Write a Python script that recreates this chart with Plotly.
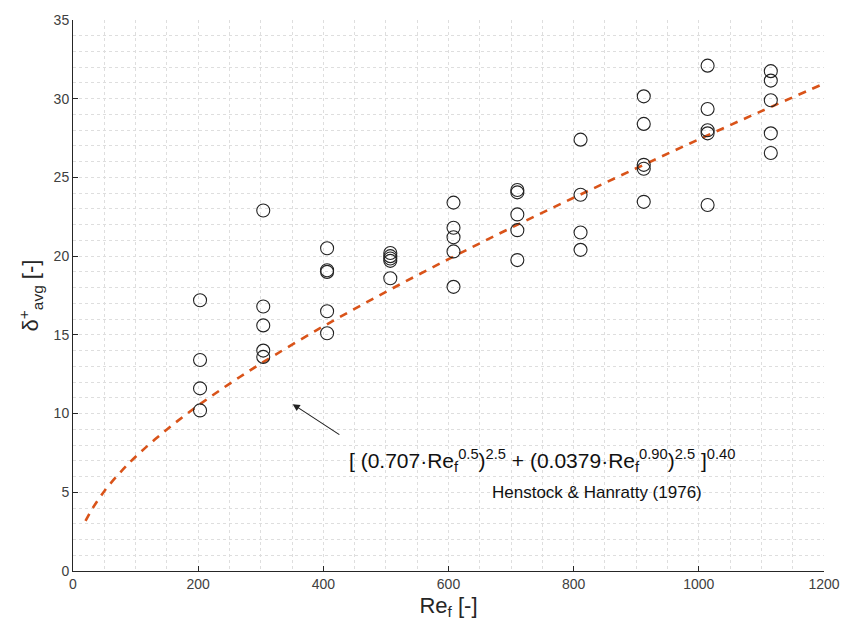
import plotly.graph_objects as go

# Measured data (Re_f, delta+_avg)
re_groups = [203, 304, 406, 507, 608, 710, 811, 912, 1014, 1115]
delta_groups = [
    [17.2, 13.4, 11.6, 10.2],
    [22.9, 16.8, 15.6, 14.0, 13.6],
    [20.5, 19.1, 19.0, 16.5, 15.1],
    [20.2, 20.0, 19.85, 19.7, 18.6],
    [23.4, 21.8, 21.2, 20.3, 18.05],
    [24.2, 24.05, 22.65, 21.65, 19.75],
    [27.4, 23.9, 21.5, 20.4],
    [30.15, 28.4, 25.8, 25.55, 23.45],
    [32.1, 29.35, 28.0, 27.8, 23.25],
    [31.75, 31.15, 29.9, 27.8, 26.55],
]

# Henstock & Hanratty (1976) correlation curve
curve_re = [20, 30, 50, 75, 100, 150, 200, 250, 300, 400, 500, 600, 700, 800, 900, 1000, 1100, 1200]
curve_delta = [3.18, 3.90, 5.07, 6.24, 7.26, 8.99, 10.51, 11.89, 13.17, 15.54, 17.73,
               19.81, 21.80, 23.71, 25.58, 27.42, 29.21, 30.96]

x_ticks = [0, 200, 400, 600, 800, 1000, 1200]
y_ticks = [0, 5, 10, 15, 20, 25, 30, 35]

xs, ys = [], []
for r, vals in zip(re_groups, delta_groups):
    for v in vals:
        xs.append(r)
        ys.append(v)

FONT = "Liberation Sans, Arial, sans-serif"
GRID = "#dedede"

fig = go.Figure()
fig.add_trace(go.Scatter(
    x=curve_re, y=curve_delta, mode="lines", line_shape="spline",
    line=dict(color="#D95319", width=2.6, dash="8px,7px"),
    showlegend=False, hoverinfo="skip"))
fig.add_trace(go.Scatter(
    x=xs, y=ys, mode="markers",
    marker=dict(symbol="circle-open", size=13, color="#222222", line=dict(width=1.1, color="#222222")),
    showlegend=False))

fig.add_annotation(
    x=351, y=10.6, ax=428, ay=8.6, xref="x", yref="y", axref="x", ayref="y",
    showarrow=True, arrowhead=2, arrowsize=1.3, arrowwidth=1.1, arrowcolor="#222222", text="")
fig.add_annotation(
    x=749, y=7.0, xref="x", yref="y", showarrow=False,
    text="[ (0.707·Re<sub>f</sub><sup>0.5</sup>)<sup>2.5</sup> + (0.0379·Re<sub>f</sub><sup>0.90</sup>)<sup>2.5</sup> ]<sup>0.40</sup>",
    font=dict(family=FONT, size=21, color="#111111"), xanchor="center", yanchor="middle")
fig.add_annotation(
    x=837, y=5.0, xref="x", yref="y", showarrow=False,
    text="Henstock &amp; Hanratty (1976)",
    font=dict(family=FONT, size=17, color="#111111"), xanchor="center", yanchor="middle")

fig.update_layout(
    width=854, height=630,
    margin=dict(l=73, r=30, t=16, b=59),
    paper_bgcolor="white", plot_bgcolor="white",
    font=dict(family=FONT, color="#404040", size=14),
    xaxis=dict(
        range=[0, 1200], tickvals=x_ticks, ticktext=[str(t) for t in x_ticks],
        showline=True, linecolor="#262626", linewidth=1, mirror=False,
        ticks="inside", ticklen=5, tickcolor="#262626",
        showgrid=True, gridcolor=GRID, griddash="dot", gridwidth=1,
        minor=dict(dtick=50, tick0=0, showgrid=True, gridcolor=GRID, griddash="dot", gridwidth=1),
        zeroline=False,
        title=dict(text="Re<sub>f</sub> [-]", font=dict(size=22, color="#262626"), standoff=6),
        tickfont=dict(size=14, color="#404040"),
    ),
    yaxis=dict(
        range=[0, 35], tickvals=y_ticks, ticktext=[str(t) for t in y_ticks],
        showline=True, linecolor="#262626", linewidth=1, mirror=False,
        ticks="inside", ticklen=5, tickcolor="#262626",
        showgrid=True, gridcolor=GRID, griddash="dot", gridwidth=1,
        minor=dict(dtick=1, tick0=0, showgrid=True, gridcolor=GRID, griddash="dot", gridwidth=1),
        zeroline=False,
        title=dict(text="δ<sup>+</sup><sub>avg</sub> [-]", font=dict(size=22, color="#262626"), standoff=8),
        tickfont=dict(size=14, color="#404040"),
    ),
)

fig.write_html("out.html")
